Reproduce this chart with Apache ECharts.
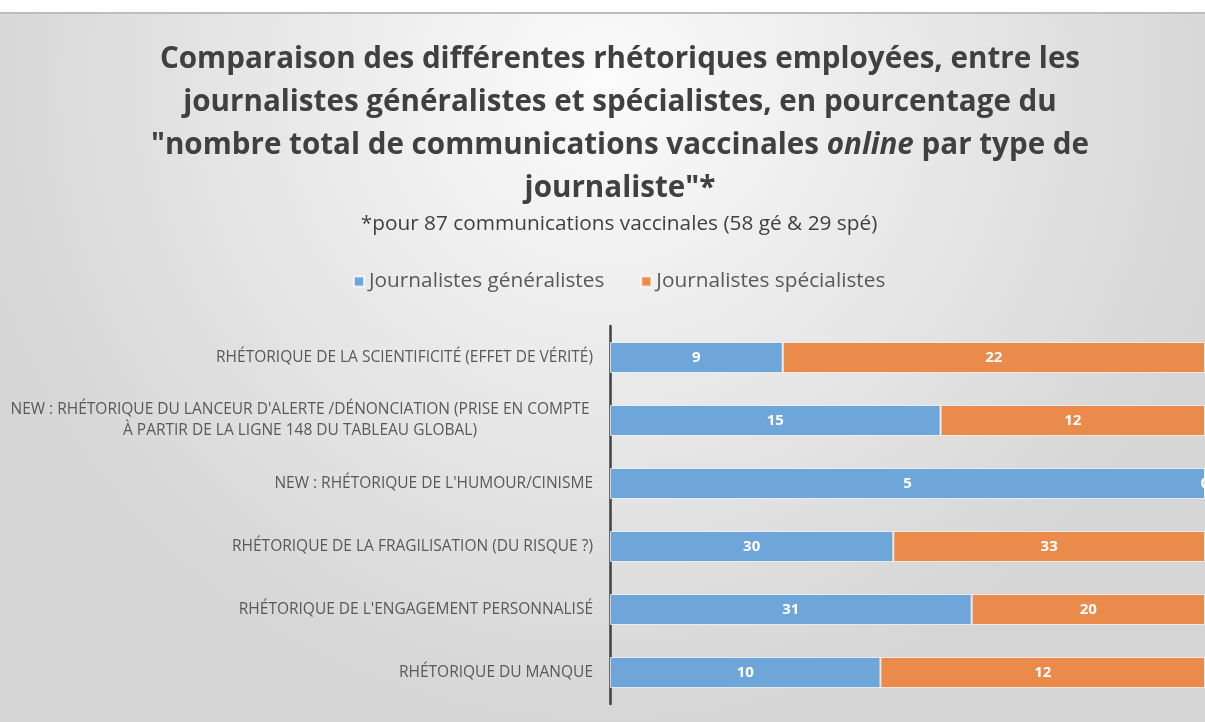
<!DOCTYPE html>
<html>
<head>
<meta charset="utf-8">
<script src="https://cdn.jsdelivr.net/npm/echarts@6/dist/echarts.min.js"></script>
<style>
  html, body { margin: 0; padding: 0; background: #fff; }
  #main { width: 1205px; height: 722px; }
</style>
</head>
<body>
<div id="main"></div>
<script>
const categories = [
  "RHÉTORIQUE DE LA SCIENTIFICITÉ (EFFET DE VÉRITÉ)",
  "NEW : RHÉTORIQUE DU LANCEUR D'ALERTE /DÉNONCIATION (PRISE EN COMPTE\nÀ PARTIR DE LA LIGNE 148 DU TABLEAU GLOBAL)",
  "NEW : RHÉTORIQUE DE L'HUMOUR/CINISME",
  "RHÉTORIQUE DE LA FRAGILISATION (DU RISQUE ?)",
  "RHÉTORIQUE DE L'ENGAGEMENT PERSONNALISÉ",
  "RHÉTORIQUE DU MANQUE"
];
const generalistes = [9, 15, 5, 30, 31, 10];
const specialistes = [22, 12, 0, 33, 20, 12];
const seriesNames = ["Journalistes généralistes", "Journalistes spécialistes"];

// 100 % empilé : part de chaque série dans la ligne
const share = (arr) => arr.map((v, i) => 100 * v / (generalistes[i] + specialistes[i]));

const font = '"Open Sans", Lato, sans-serif';
const chart = echarts.init(document.getElementById('main'));

const labelStyle = (raw) => ({
  show: true,
  position: 'inside',
  color: '#fff',
  fontWeight: 'bold',
  fontSize: 15,
  fontFamily: font,
  formatter: (p) => String(raw[p.dataIndex])
});

const option = {
  backgroundColor: '#fff',
  graphic: [
    {
      type: 'rect', silent: true, z: -10,
      shape: { x: 0, y: 14, width: 1205, height: 708 },
      style: {
        fill: new echarts.graphic.RadialGradient(0.5, 0.1, 0.9, [
          { offset: 0, color: '#fbfbfb' },
          { offset: 1, color: '#d6d6d6' }
        ])
      }
    },
    {
      type: 'line', silent: true, z: -9,
      shape: { x1: 0, y1: 13, x2: 1205, y2: 13 },
      style: { stroke: '#bcbcbc', lineWidth: 2 }
    }
  ],
  title: [
    {
      text: 'Comparaison des différentes rhétoriques employées, entre les\n' +
            'journalistes généralistes et spécialistes, en pourcentage du\n' +
            '"nombre total de communications vaccinales {i|online} par type de\n' +
            'journaliste"*',
      left: 615, top: 33, textAlign: 'center',
      textStyle: {
        fontFamily: font, fontSize: 29.6, fontWeight: 'bold', color: '#404040',
        lineHeight: 43,
        rich: {
          i: { fontFamily: font, fontSize: 29.6, fontWeight: 'bold', fontStyle: 'italic', color: '#404040', lineHeight: 43 }
        }
      }
    },
    {
      text: '*pour 87 communications vaccinales (58 gé & 29 spé)',
      left: 614, top: 209, textAlign: 'center',
      textStyle: { fontFamily: font, fontSize: 20.8, fontWeight: 'normal', color: '#404040' }
    }
  ],
  legend: {
    data: seriesNames,
    left: 348, top: 266,
    itemWidth: 10, itemHeight: 10, itemGap: 36,
    icon: 'rect',
    textStyle: { fontFamily: font, fontSize: 20.8, color: '#595959' }
  },
  grid: { left: 610, right: -4, top: 326, bottom: 18, containLabel: false },
  xAxis: {
    type: 'value', min: 0, max: 100,
    show: false
  },
  yAxis: {
    type: 'category',
    data: categories,
    inverse: true,
    axisLine: { show: true, lineStyle: { color: '#404040', width: 2.5 } },
    axisTick: { show: false },
    axisLabel: {
      fontFamily: font, fontSize: 15.5, color: '#595959', margin: 17,
      align: 'right',
      formatter: (v) => v.indexOf('\n') >= 0 ? '{m|' + v + '}' : v,
      rich: { m: { fontFamily: font, fontSize: 15.5, color: '#595959', align: 'center', width: 586, lineHeight: 21 } }
    }
  },
  series: [
    {
      name: seriesNames[0], type: 'bar', stack: 'total',
      barWidth: 31,
      data: share(generalistes),
      itemStyle: { color: '#6fa6d9', borderColor: 'rgba(255,255,255,0.7)', borderWidth: 1 },
      label: labelStyle(generalistes)
    },
    {
      name: seriesNames[1], type: 'bar', stack: 'total',
      barWidth: 31,
      data: share(specialistes),
      itemStyle: { color: '#eb8b4b', borderColor: 'rgba(255,255,255,0.7)', borderWidth: 1 },
      label: labelStyle(specialistes)
    }
  ]
};
chart.setOption(option);
</script>
</body>
</html>
